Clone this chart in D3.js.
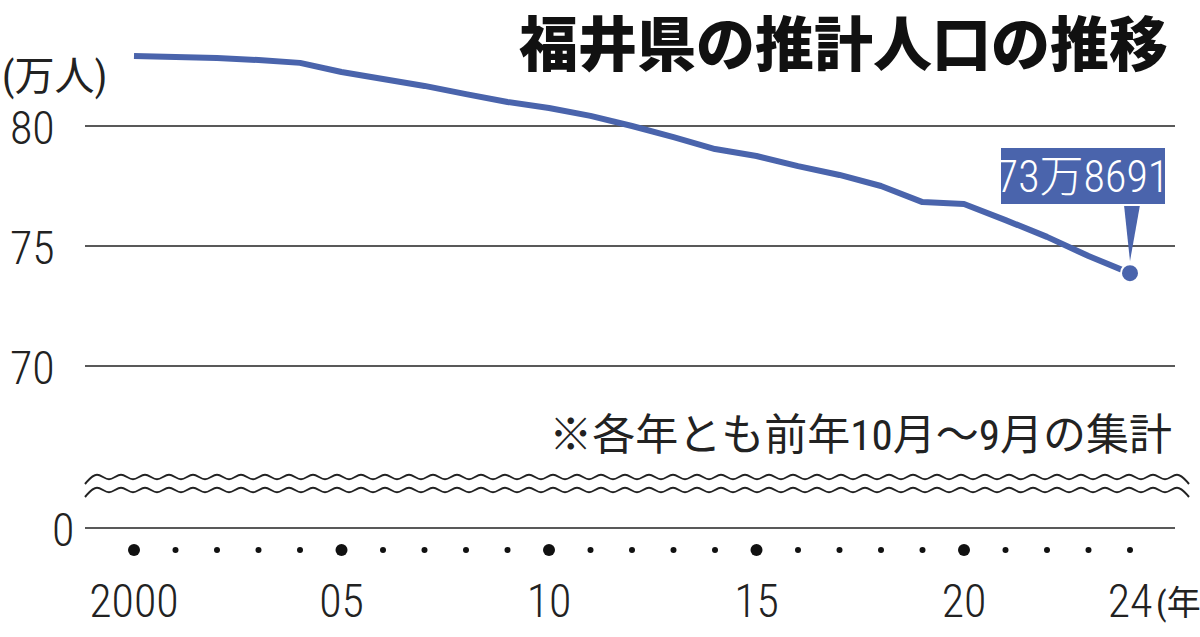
<!DOCTYPE html>
<html><head><meta charset="utf-8">
<script src="https://cdn.jsdelivr.net/npm/d3@7"></script>
<style>
body{margin:0;background:#fff}
text{font-family:"Liberation Sans Narrow","Roboto Condensed","Noto Sans CJK JP",sans-serif}
</style></head>
<body><div id="chart"></div>
<script>
// data (万人)
const years = d3.range(2000, 2025)
const population = [82.92, 82.87, 82.83, 82.75, 82.63, 82.25, 81.96, 81.67, 81.33, 81.0,
  80.75, 80.42, 80.0, 79.54, 79.04, 78.75, 78.33, 77.96, 77.5, 76.83,
  76.75, 76.08, 75.38, 74.58, 73.8691]
const yTicks = [80, 75, 70]
const xTickYears = [2000, 2005, 2010, 2015, 2020, 2024]
const xTickLabels = ["2000", "05", "10", "15", "20", "24"]
const title = "福井県の推計人口の推移"
const note = "※各年とも前年10月～9月の集計"
const lastLabel = "73万8691"

const W = 1200, H = 637
const blue = "#4a64ac"
const svg = d3.select("#chart").append("svg").attr("width", W).attr("height", H)

const x = d3.scaleLinear().domain([2000, 2024]).range([134, 1130])
const y = d3.scaleLinear().domain([70, 80]).range([366, 126])
const zeroY = 528
const jp = "'Noto Sans CJK JP',sans-serif"

// grid lines
yTicks.forEach(v => {
  svg.append("line").attr("x1", 85).attr("x2", 1175).attr("y1", y(v)).attr("y2", y(v))
    .attr("stroke", "#222").attr("stroke-width", 1.5)
  svg.append("text").attr("x", 10).attr("y", y(v) + 18).attr("font-size", 46)
    .attr("font-weight", 300).attr("fill", "#222").text(v)
})
svg.append("line").attr("x1", 85).attr("x2", 1175).attr("y1", zeroY).attr("y2", zeroY)
  .attr("stroke", "#222").attr("stroke-width", 1.5)
svg.append("text").attr("x", 52).attr("y", zeroY + 18).attr("font-size", 46).attr("font-weight", 300)
  .attr("fill", "#222").text("0")
svg.append("text").attr("x", 2).attr("y", 90).attr("font-size", 40).attr("font-family", jp)
  .attr("fill", "#222").text("(万人)")

// wavy break
const wave = d3.line().curve(d3.curveBasis)
  ;[477, 490].forEach(yy => {
    const pts = d3.range(85, 1190, 12).map((px, i) => [px, yy + (i % 2 ? -7 : 7)])
    svg.append("path").attr("d", wave(pts)).attr("fill", "none").attr("stroke", "#222").attr("stroke-width", 2)
  })

// year dots
years.forEach(yr => {
  svg.append("circle").attr("cx", x(yr)).attr("cy", 550).attr("r", yr % 5 === 0 ? 6 : 3).attr("fill", "#111")
})
xTickYears.forEach((yr, i) => {
  svg.append("text").attr("x", x(yr)).attr("y", 617).attr("text-anchor", "middle")
    .attr("font-size", 46).attr("font-weight", 300).attr("fill", "#222").text(xTickLabels[i])
})
svg.append("text").attr("x", x(2024) + 26).attr("y", 615).attr("font-size", 34)
  .attr("font-family", jp).attr("fill", "#222").text("(年)")

// note
svg.append("text").attr("x", 1172).attr("y", 450).attr("text-anchor", "end").attr("font-size", 43)
  .attr("font-family", jp).attr("fill", "#222").text(note)

// line
const line = d3.line().x((d, i) => x(years[i])).y(d => y(d))
svg.append("path").attr("d", line(population)).attr("fill", "none").attr("stroke", blue)
  .attr("stroke-width", 6).attr("stroke-linejoin", "round")
const lx = x(2024), ly = y(population[population.length - 1])
svg.append("circle").attr("cx", lx).attr("cy", ly).attr("r", 9).attr("fill", blue).attr("stroke", "#fff").attr("stroke-width", 2)

// callout
svg.append("path").attr("d", `M${lx - 6},205 L${lx + 10},205 L${lx},${ly - 12} Z`).attr("fill", blue)
svg.append("rect").attr("x", 1000).attr("y", 147).attr("width", 166).attr("height", 58).attr("fill", blue)
  .attr("stroke", "#fff").attr("stroke-width", 2)
svg.append("text").attr("x", 1083).attr("y", 192).attr("text-anchor", "middle").attr("font-size", 44)
  .attr("font-weight", 300).attr("fill", "#fff").text(lastLabel)

// title
svg.append("text").attr("x", 1168).attr("y", 66).attr("text-anchor", "end").attr("font-size", 59)
  .attr("font-weight", 900).attr("font-family", jp).attr("fill", "#111").text(title)
</script></body></html>
